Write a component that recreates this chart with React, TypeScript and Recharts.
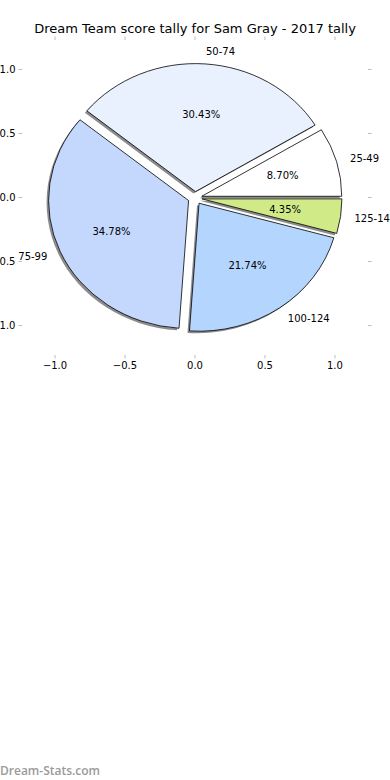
import { PieChart, Pie, ScatterChart, Scatter, XAxis, YAxis } from "recharts";

const categories = ["25-49", "50-74", "75-99", "100-124", "125-149"];
const counts = [2, 7, 8, 5, 1];
const axisTicks = [-1, -0.5, 0, 0.5, 1];

const sliceColors = ["#ffffff", "#eaf1fe", "#c4d8fe", "#b4d6fe", "#d0ea88"];

const data = categories.map((name, i) => ({ name, value: counts[i], fill: sliceColors[i] }));

const W = 390;
const H = 380;
const CX = 195;
const CY = 198;
const RX = 140;
// axes aren't equal-aspect, so the pie is an ellipse
const Y_SCALE = 128 / 140;
const EXPLODE = 0.05;
const RAD = Math.PI / 180;
const FONT = "'DejaVu Sans', sans-serif";
const TICK_GRAY = "#bdbdbd";

function fmtTick(v: number) {
  return (v < 0 ? "\u2212" : "") + Math.abs(v).toFixed(1);
}

const noLabel = () => "";

function wedgePath(cx: number, cy: number, r: number, start: number, end: number) {
  const ry = r * Y_SCALE;
  const mid = (start + end) / 2;
  const ox = cx + EXPLODE * r * Math.cos(mid * RAD);
  const oy = cy - EXPLODE * ry * Math.sin(mid * RAD);
  const x1 = ox + r * Math.cos(start * RAD);
  const y1 = oy - ry * Math.sin(start * RAD);
  const x2 = ox + r * Math.cos(end * RAD);
  const y2 = oy - ry * Math.sin(end * RAD);
  const large = Math.abs(end - start) > 180 ? 1 : 0;
  return `M${ox},${oy} L${x1},${y1} A${r},${ry} 0 ${large} 0 ${x2},${y2} Z`;
}

function ShadowWedge(props: any) {
  const { cx, cy, outerRadius, startAngle, endAngle } = props;
  return <path d={wedgePath(cx, cy, outerRadius, startAngle, endAngle)} fill="#8c8c8c" stroke="none" />;
}

function Wedge(props: any) {
  const { cx, cy, outerRadius, startAngle, endAngle, payload } = props;
  const fill = payload?.fill ?? props.fill;
  return (
    <path
      d={wedgePath(cx, cy, outerRadius, startAngle, endAngle)}
      fill={fill}
      stroke="#000"
      strokeWidth={0.8}
      strokeLinejoin="round"
    />
  );
}

function WedgeLabel(props: any) {
  const { cx, cy, outerRadius, midAngle, percent, name } = props;
  const r = outerRadius;
  const ry = r * Y_SCALE;
  const c = Math.cos(midAngle * RAD);
  const s = Math.sin(midAngle * RAD);
  const ox = cx + EXPLODE * r * c;
  const oy = cy - EXPLODE * ry * s;
  return (
    <g>
      <text
        x={ox + 1.1 * r * c}
        y={oy - 1.1 * ry * s}
        textAnchor={c >= 0 ? "start" : "end"}
        dominantBaseline="central"
        fontSize={10}
        fontFamily={FONT}
        fill="#000"
      >
        {name}
      </text>
      <text
        x={ox + 0.6 * r * c}
        y={oy - 0.6 * ry * s}
        textAnchor="middle"
        dominantBaseline="central"
        fontSize={10}
        fontFamily={FONT}
        fill="#000"
      >
        {(percent * 100).toFixed(2)}%
      </text>
    </g>
  );
}

const tickStyle = { fontSize: 10, fontFamily: FONT, fill: "#000" };

export default function App() {
  return (
    <div style={{ position: "absolute", left: 0, top: 0, width: 390, height: 780, background: "#fff" }}>
      <div
        style={{
          position: "absolute",
          top: 21,
          left: 0,
          width: W,
          textAlign: "center",
          fontFamily: FONT,
          fontSize: 13,
          color: "#000",
        }}
      >
        Dream Team score tally for Sam Gray - 2017 tally
      </div>

      <div style={{ position: "absolute", left: 0, top: 0 }}>
        <ScatterChart width={W} height={H} margin={{ top: 10, right: 0, bottom: 5, left: 0 }}>
          <XAxis
            xAxisId="b"
            type="number"
            dataKey="x"
            domain={[-1.236, 1.236]}
            ticks={axisTicks}
            tickFormatter={fmtTick}
            allowDataOverflow
            axisLine={false}
            tickLine={{ stroke: TICK_GRAY }}
            tickSize={3.5}
            tickMargin={3}
            height={20}
            tick={tickStyle}
            interval={0}
          />
          <XAxis
            xAxisId="t"
            orientation="top"
            type="number"
            dataKey="x"
            domain={[-1.236, 1.236]}
            ticks={axisTicks}
            tickFormatter={noLabel}
            allowDataOverflow
            axisLine={false}
            tickLine={{ stroke: TICK_GRAY }}
            tickSize={3.5}
            height={30}
            tick={tickStyle}
            interval={0}
          />
          <YAxis
            yAxisId="l"
            type="number"
            dataKey="y"
            domain={[-1.23, 1.23]}
            ticks={axisTicks}
            tickFormatter={fmtTick}
            allowDataOverflow
            axisLine={false}
            tickLine={{ stroke: TICK_GRAY }}
            tickSize={3.5}
            tickMargin={3}
            width={22}
            tick={tickStyle}
            interval={0}
          />
          <YAxis
            yAxisId="r"
            orientation="right"
            type="number"
            dataKey="y"
            domain={[-1.23, 1.23]}
            ticks={axisTicks}
            tickFormatter={noLabel}
            allowDataOverflow
            axisLine={false}
            tickLine={{ stroke: TICK_GRAY }}
            tickSize={3.5}
            width={22}
            tick={tickStyle}
            interval={0}
          />
          <Scatter xAxisId="b" yAxisId="l" data={[]} isAnimationActive={false} />
          <Scatter xAxisId="t" yAxisId="r" data={[]} isAnimationActive={false} />
        </ScatterChart>
      </div>

      <div style={{ position: "absolute", left: 0, top: 0 }}>
        <PieChart width={W} height={H} margin={{ top: 0, right: 0, bottom: 0, left: 0 }}>
          <Pie
            data={data}
            dataKey="value"
            nameKey="name"
            cx={CX - 2}
            cy={CY + 2}
            outerRadius={RX}
            startAngle={0}
            endAngle={360}
            stroke="none"
            shape={ShadowWedge}
            isAnimationActive={false}
          />
          <Pie
            data={data}
            dataKey="value"
            nameKey="name"
            cx={CX}
            cy={CY}
            outerRadius={RX}
            startAngle={0}
            endAngle={360}
            shape={Wedge}
            label={WedgeLabel}
            labelLine={false}
            isAnimationActive={false}
          />
        </PieChart>
      </div>

      <div
        style={{
          position: "absolute",
          left: 0,
          top: 762,
          fontFamily: "'Open Sans', sans-serif",
          fontWeight: 600,
          fontSize: 12,
          color: "#9a9a9a",
        }}
      >
        Dream-Stats.com
      </div>
    </div>
  );
}
